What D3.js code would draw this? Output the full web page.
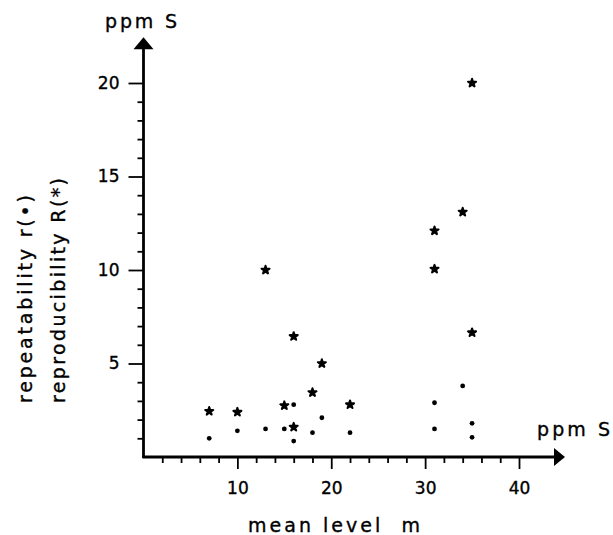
<!DOCTYPE html>
<html>
<head>
<meta charset="utf-8" />
<title>repeatability / reproducibility vs mean level</title>
<style>
body { margin: 0; background: #fff; }
text { font-family: "DejaVu Sans", sans-serif; fill: #000; stroke: #000; stroke-width: 0.35px; }
</style>
</head>
<body>
<div id="graph"></div>
<script src="https://d3js.org/d3.v7.min.js"></script>
<script>
// reproducibility R (*), mean level m and value in ppm S
var reproM = [7, 10, 13, 15, 16, 16, 18, 19, 22, 31, 31, 34, 35, 35];
var reproR = [2.45, 2.4, 10.0, 2.75, 6.45, 1.6, 3.45, 5.0, 2.8, 12.1, 10.05, 13.1, 20.0, 6.65];

// repeatability r (•)
var repM = [7, 10, 13, 15, 16, 16, 18, 19, 22, 31, 31, 34, 35, 35];
var repR = [1.0, 1.4, 1.5, 1.5, 2.8, 0.85, 1.3, 2.1, 1.3, 2.9, 1.5, 3.8, 1.8, 1.05];

var xMajor = [10, 20, 30, 40];
var xMinor = [2, 4, 6, 8, 12, 14, 16, 18, 22, 24, 26, 28, 32, 34, 36, 38];
var yMajor = [5, 10, 15, 20];
var yMinor = [1, 2, 3, 4, 6, 7, 8, 9, 11, 12, 13, 14, 16, 17, 18, 19];

!(function(){
    "use strict"
    var width = 613, height = 535;
    var svg = d3.select("#graph").append("svg")
        .attr("width", width).attr("height", height);

    var x = d3.scaleLinear().domain([0, 40]).range([143.5, 519]);
    var y = d3.scaleLinear().domain([0, 20]).range([457, 83]);
    var fs = 17, fsl = 19;
    var font = "DejaVu Sans, sans-serif";

    // x axis ticks
    var gx = svg.append("g").attr("transform", "translate(0," + y(0) + ")");
    gx.append("g").call(d3.axisBottom(x).tickValues(xMinor).tickSize(6).tickFormat(""));
    gx.append("g").call(d3.axisBottom(x).tickValues(xMajor).tickSize(12).tickPadding(13));
    gx.selectAll(".domain").remove();

    // y axis ticks
    var gy = svg.append("g").attr("transform", "translate(" + x(0) + ",0)");
    gy.append("g").call(d3.axisLeft(y).tickValues(yMinor).tickSize(6).tickFormat(""));
    gy.append("g").call(d3.axisLeft(y).tickValues(yMajor).tickSize(15).tickPadding(9));
    gy.selectAll(".domain").remove();

    svg.selectAll(".tick line").attr("stroke", "#000").attr("stroke-width", 1.8);
    svg.selectAll(".tick text").attr("font-size", fs).attr("font-family", font);

    // axis lines with arrows
    var xEnd = x(44.9), yEnd = y(22.45);
    svg.append("line").attr("x1", x(0) - 1).attr("x2", xEnd - 8).attr("y1", y(0)).attr("y2", y(0))
        .attr("stroke", "#000").attr("stroke-width", 2.8);
    svg.append("line").attr("x1", x(0)).attr("x2", x(0)).attr("y1", y(0) + 1).attr("y2", yEnd + 8)
        .attr("stroke", "#000").attr("stroke-width", 2.8);
    svg.append("path")
        .attr("d", "M" + xEnd + "," + y(0) + "L" + (xEnd - 11) + "," + (y(0) - 9) + "L" + (xEnd - 11) + "," + (y(0) + 9) + "Z")
        .attr("fill", "#000");
    svg.append("path")
        .attr("d", "M" + x(0) + "," + yEnd + "L" + (x(0) - 10) + "," + (yEnd + 12) + "L" + (x(0) + 10) + "," + (yEnd + 12) + "Z")
        .attr("fill", "#000");

    // axis unit labels
    svg.append("text").attr("x", 105).attr("y", 28).attr("font-size", fsl)
        .attr("textLength", 72).attr("lengthAdjust", "spacing").text("ppm S");
    svg.append("text").attr("x", 537).attr("y", 436).attr("font-size", fsl)
        .attr("textLength", 73).attr("lengthAdjust", "spacing").text("ppm S");
    svg.append("text").attr("x", 248).attr("y", 532).attr("font-size", fsl)
        .style("white-space", "pre")
        .attr("textLength", 172).attr("lengthAdjust", "spacing").text("mean level  m");

    svg.append("text").attr("transform", "translate(32,403) rotate(-90)").attr("font-size", fsl)
        .attr("textLength", 208).attr("lengthAdjust", "spacing").text("repeatability r(\u2022)");
    svg.append("text").attr("transform", "translate(65,403) rotate(-90)").attr("font-size", fsl)
        .attr("textLength", 225).attr("lengthAdjust", "spacing").text("reproducibility R(*)");

    // points
    var star = d3.symbol().type(d3.symbolStar).size(20);
    svg.append("g").selectAll("path")
        .data(d3.zip(reproM, reproR))
        .enter().append("path")
        .attr("d", star)
        .attr("transform", function(d){ return "translate(" + x(d[0]) + "," + y(d[1]) + ")" })
        .attr("fill", "#000").attr("stroke", "#000").attr("stroke-width", 2)
        .attr("stroke-linejoin", "round");

    svg.append("g").selectAll("circle")
        .data(d3.zip(repM, repR))
        .enter().append("circle")
        .attr("cx", function(d){ return x(d[0]) })
        .attr("cy", function(d){ return y(d[1]) })
        .attr("r", 2.4)
        .attr("fill", "#000");
}());
</script>
</body>
</html>
